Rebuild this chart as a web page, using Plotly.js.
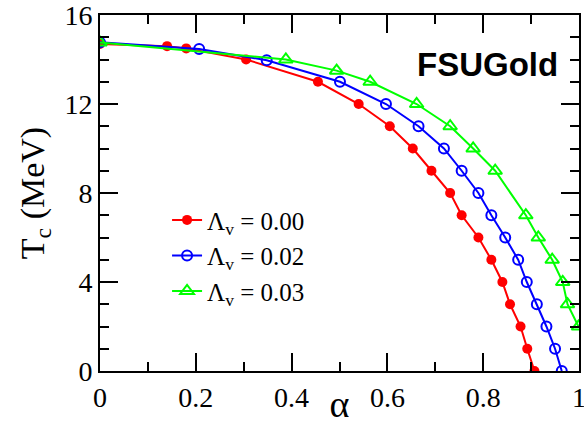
<!DOCTYPE html>
<html>
<head>
<meta charset="utf-8">
<script src="https://cdn.plot.ly/plotly-3.0.1.min.js"></script>
<style>html,body{margin:0;padding:0;background:#fff;}#chart{width:584px;height:425px;}</style>
</head>
<body>
<div id="chart"></div>
<script>
// Λv = 0.00
const alpha0 = [0, 0.14, 0.18, 0.305, 0.455, 0.54, 0.605, 0.653, 0.692, 0.731, 0.755, 0.79, 0.817, 0.84, 0.856, 0.878, 0.892, 0.907];
const tc0    = [14.7, 14.6, 14.5, 14.0, 13.0, 12.0, 11.0, 10.0, 9.0, 8.0, 7.0, 6.0, 5.0, 4.0, 3.0, 2.0, 1.0, 0.0];
// Λv = 0.02
const alpha2 = [0, 0.207, 0.348, 0.501, 0.597, 0.665, 0.718, 0.755, 0.79, 0.817, 0.846, 0.873, 0.891, 0.912, 0.932, 0.95, 0.964];
const tc2    = [14.77, 14.47, 13.97, 13.0, 12.0, 11.0, 10.0, 9.0, 8.0, 7.0, 6.0, 5.0, 4.0, 3.0, 2.0, 1.0, 0.0];
// Λv = 0.03
const alpha3 = [0, 0.388, 0.494, 0.564, 0.661, 0.731, 0.779, 0.825, 0.889, 0.915, 0.944, 0.966, 0.976, 0.999];
const tc3    = [14.76, 14.0, 13.5, 13.0, 12.0, 11.0, 10.0, 9.0, 7.0, 6.0, 5.0, 4.0, 3.0, 2.0];

const names = ["Λ<sub>v</sub> = 0.00", "Λ<sub>v</sub> = 0.02", "Λ<sub>v</sub> = 0.03"];
const xTickVals = [0, 0.2, 0.4, 0.6, 0.8, 1];
const xTickText = ["0", "0.2", "0.4", "0.6", "0.8", "1"];
const yTickVals = [0, 4, 8, 12, 16];

const serif = "Liberation Serif";

const traces = [
  {x: alpha0, y: tc0, name: names[0], mode: "lines+markers",
   line: {color: "#ff0000", width: 2},
   marker: {symbol: "circle", size: 10, color: "#ff0000"}},
  {x: alpha2, y: tc2, name: names[1], mode: "lines+markers",
   line: {color: "#0000ff", width: 2},
   marker: {symbol: "circle-open", size: 10, color: "#0000ff", line: {width: 2, color: "#0000ff"}}},
  {x: alpha3, y: tc3, name: names[2], mode: "lines+markers",
   line: {color: "#00ff00", width: 2},
   marker: {symbol: "triangle-up-open", size: 12, color: "#00ff00", line: {width: 2, color: "#00ff00"}}}
];

const axisCommon = {
  showgrid: false, zeroline: false, showline: true, linecolor: "#000", linewidth: 2,
  mirror: "allticks", ticks: "inside", tickcolor: "#000", tickwidth: 2, ticklen: 18,
  ticklabeloverflow: "allow",
  tickfont: {family: serif, size: 28, color: "#000"}
};

const layout = {
  width: 584, height: 425,
  margin: {l: 100, r: 5, t: 15, b: 53.5},
  paper_bgcolor: "#fff", plot_bgcolor: "#fff",
  font: {family: serif, color: "#000"},
  showlegend: true,
  legend: {x: 0.14, y: 0.324, xanchor: "left", yanchor: "middle", bgcolor: "rgba(0,0,0,0)",
           font: {family: serif, size: 25, color: "#000"}, traceorder: "normal"},
  xaxis: Object.assign({}, axisCommon, {
    range: [0, 1], tickvals: xTickVals, ticktext: xTickText,
    minor: {dtick: 0.1, ticks: "inside", ticklen: 9, tickwidth: 2, tickcolor: "#000"},
    title: {text: "α", font: {family: serif, size: 38, color: "#000"}, standoff: 4}
  }),
  yaxis: Object.assign({}, axisCommon, {
    range: [0, 16], tickvals: yTickVals,
    minor: {dtick: 1, ticks: "inside", ticklen: 9, tickwidth: 2, tickcolor: "#000"},
    title: {text: "T<sub>c</sub> (MeV)", font: {family: serif, size: 34, color: "#000"}, standoff: 10}
  }),
  annotations: [{
    text: "<b>FSUGold</b>", xref: "paper", yref: "paper", x: 0.81, y: 0.86,
    xanchor: "center", yanchor: "middle", showarrow: false,
    font: {family: "Liberation Sans", size: 33, color: "#000"}
  }]
};

Plotly.newPlot("chart", traces, layout, {displayModeBar: false, staticPlot: true});
</script>
</body>
</html>
